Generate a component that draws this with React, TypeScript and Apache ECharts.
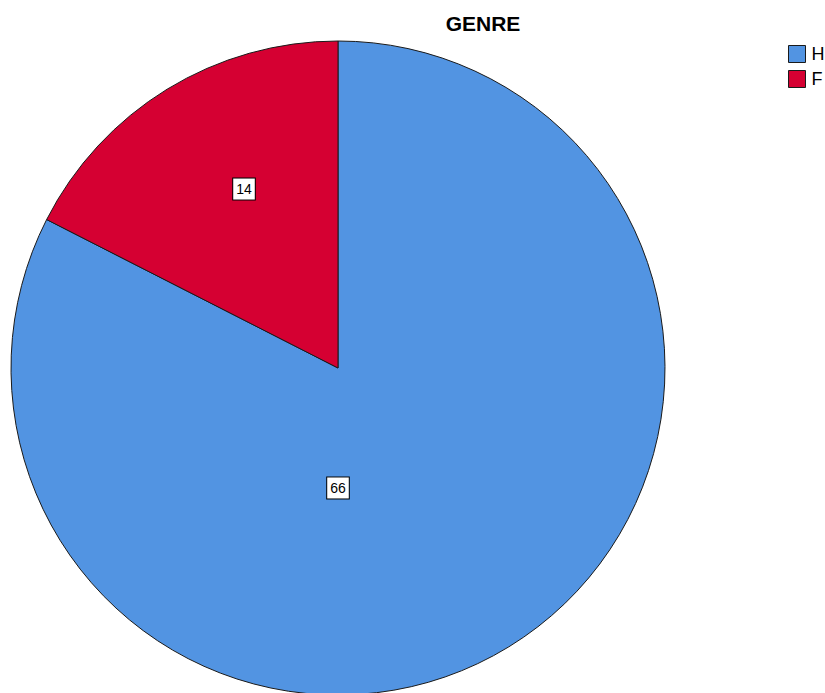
import React, { useEffect, useRef } from "react";
import * as echarts from "echarts";

const title = "GENRE";
const categories = ["H", "F"];
const values = [66, 14];
const colors = ["#5294E2", "#D50032"];

export default function App() {
  const ref = useRef<HTMLDivElement>(null);
  useEffect(() => {
    const chart = echarts.init(ref.current!, null, { renderer: "svg" });
    const offsets = [[-87, -22], [-7, -37]];
    chart.setOption({
      animation: false,
      backgroundColor: "#ffffff",
      title: {
        text: title,
        left: 483,
        top: 13,
        padding: 0,
        textAlign: "center",
        textStyle: { fontFamily: "Liberation Sans, Arial", fontSize: 21, fontWeight: "bold", color: "#000" },
      },
      legend: {
        orient: "vertical",
        left: 788,
        top: 45,
        padding: 0,
        itemWidth: 17,
        itemHeight: 17,
        itemGap: 7,
        icon: "rect",
        itemStyle: { borderColor: "#1a1a1a", borderWidth: 1 },
        data: categories,
        textStyle: { fontFamily: "Liberation Sans, Arial", fontSize: 18, color: "#000", padding: [0, 0, 0, 1] },
      },
      series: [
        {
          type: "pie",
          center: [338, 368],
          radius: 327,
          startAngle: 90,
          clockwise: true,
          silent: true,
          itemStyle: { borderColor: "#1a1a1a", borderWidth: 1 },
          label: {
            show: true,
            position: "inside",
            formatter: "{c}",
            fontFamily: "Liberation Sans, Arial",
            fontSize: 14,
            color: "#000",
            backgroundColor: "#ffffff",
            borderColor: "#000",
            borderWidth: 1,
            padding: [4, 3, 3, 3],
          },
          labelLine: { show: false },
          data: categories.map((c, i) => ({
            name: c,
            value: values[i],
            itemStyle: { color: colors[i] },
            label: { offset: offsets[i] },
          })),
        },
      ],
    });
    return () => chart.dispose();
  }, []);
  return <div ref={ref} style={{ position: "fixed", left: 0, top: 0, width: 825, height: 693 }} />;
}
